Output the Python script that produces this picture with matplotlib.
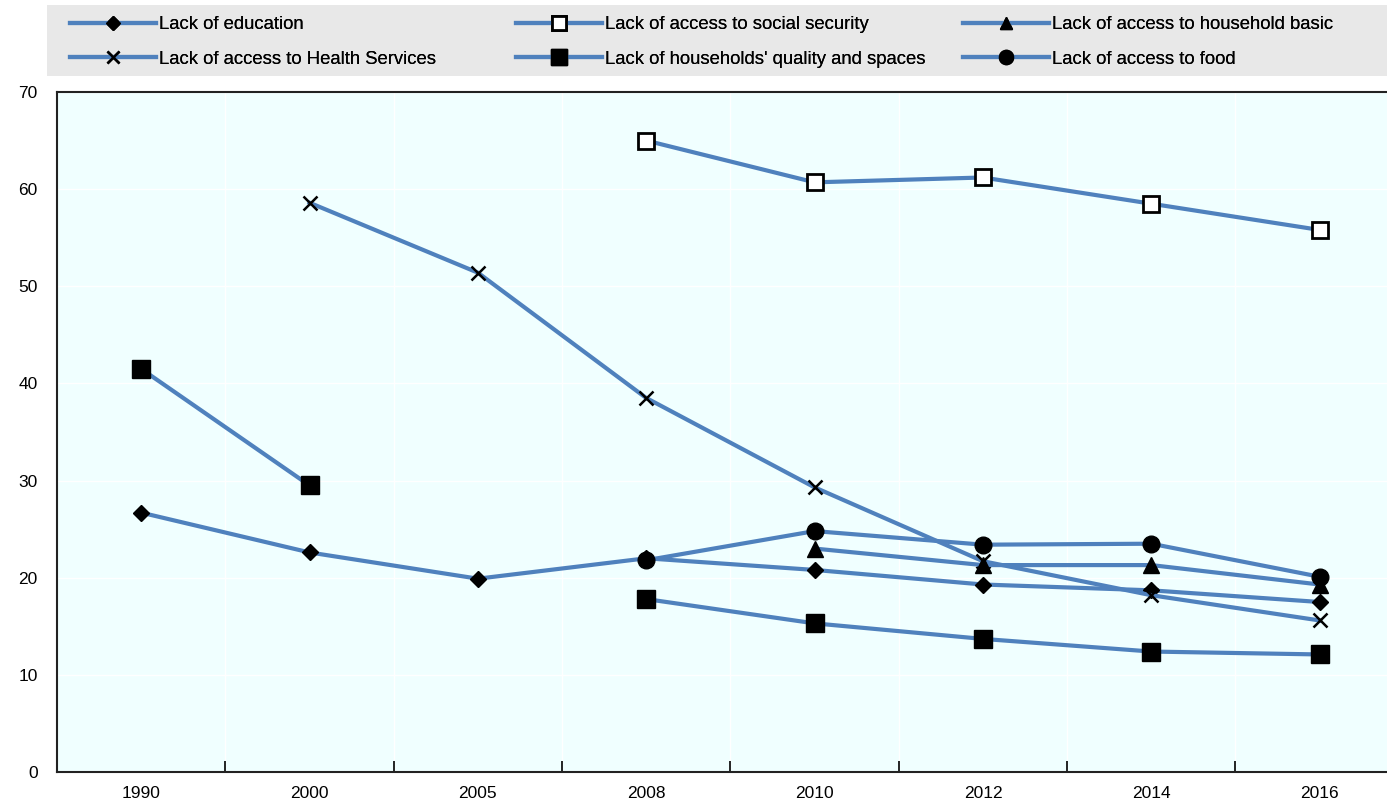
import numpy as np
import matplotlib.pyplot as plt
from matplotlib.patches import Rectangle
from matplotlib.ticker import FixedLocator

plt.rcParams['font.family'] = ['Liberation Sans', 'DejaVu Sans']

years = ["1990", "2000", "2005", "2008", "2010", "2012", "2014", "2016"]
nan = np.nan

education = [26.7, 22.6, 19.9, 22.0, 20.8, 19.3, 18.7, 17.5]
health = [nan, 58.6, 51.4, 38.5, 29.3, 21.7, 18.2, 15.6]
social_security = [nan, nan, nan, 65.0, 60.7, 61.2, 58.5, 55.8]
housing_quality = [41.5, 29.5, nan, 17.8, 15.3, 13.7, 12.4, 12.1]
housing_basic = [nan, nan, nan, nan, 23.0, 21.3, 21.3, 19.3]
food = [nan, nan, nan, 21.8, 24.8, 23.4, 23.5, 20.1]

line_color = "#4f81bd"

fig = plt.figure(figsize=(13.87, 8.02), dpi=100)
ax = fig.add_axes([57 / 1387, 1 - 772 / 802, (1387 - 57) / 1387, 680 / 802])
ax.set_facecolor("#f0ffff")

x = np.arange(len(years))
series = [
    ("Lack of education", education, dict(marker="D", ms=8.5, mfc="black")),
    ("Lack of access to Health Services", health, dict(marker="x", ms=10, mew=1.8)),
    ("Lack of access to social security", social_security, dict(marker="s", ms=12, mfc="white", mew=2)),
    ("Lack of households' quality and spaces", housing_quality, dict(marker="s", ms=13, mfc="black")),
    ("Lack of access to household basic", housing_basic, dict(marker="^", ms=11, mfc="black")),
    ("Lack of access to food", food, dict(marker="o", ms=12, mfc="black")),
]
lines = []
for label, vals, style in series:
    ln, = ax.plot(x, vals, color=line_color, lw=3, mec="black", label=label, zorder=3, **style)
    lines.append(ln)

ax.set_xlim(-0.5, 7.4)
ax.set_ylim(0, 70)
ax.set_yticks(range(0, 71, 10))
ax.set_xticks(x)
ax.set_xticklabels(years)
ax.xaxis.set_minor_locator(FixedLocator(np.arange(0.5, 7, 1)))
ax.tick_params(axis="x", which="major", length=0, pad=10, labelsize=12.5)
ax.tick_params(axis="x", which="minor", length=8, width=1.2, direction="in")
ax.tick_params(axis="y", length=0, pad=14, labelsize=12.5)
ax.grid(True, axis="y", color="white", lw=1)
ax.grid(True, axis="x", which="minor", color="white", lw=1)
ax.set_axisbelow(True)
ax.spines["right"].set_visible(False)
for s in ["left", "bottom", "top"]:
    ax.spines[s].set_color("#222222")
    ax.spines[s].set_linewidth(1.5)

# legend background
fig.patches.append(Rectangle((47 / 1387, 1 - 76 / 802), (1387 - 47) / 1387, 71 / 802,
                             transform=fig.transFigure, facecolor="#e8e8e8",
                             edgecolor="none", zorder=0))

# three legend columns, two rows each
col_x = [64, 510, 957]
for i, cx in enumerate(col_x):
    hs = lines[2 * i:2 * i + 2]
    leg = fig.legend(hs, [h.get_label() for h in hs], loc="center left",
                     bbox_to_anchor=(cx / 1387, 1 - 42 / 802), frameon=False,
                     fontsize=13.3, handlelength=4.7, handletextpad=0.15,
                     labelspacing=0.95, borderaxespad=0, borderpad=0.3,
                     markerscale=0.85)
    fig.add_artist(leg)

fig.savefig("out.png", dpi=100)
